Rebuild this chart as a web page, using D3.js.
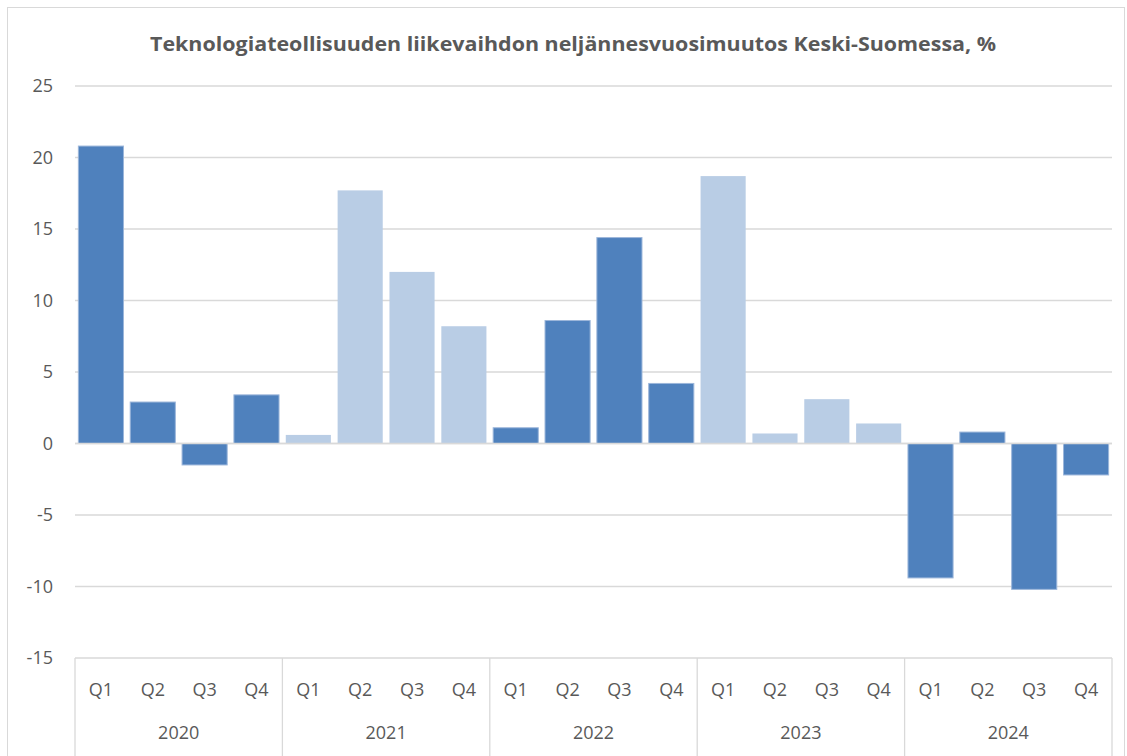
<!DOCTYPE html>
<html>
<head>
<meta charset="utf-8">
<script src="https://cdn.jsdelivr.net/npm/d3@7"></script>
<style>
  body { margin: 0; background: #fff; }
  text { font-family: "Open Sans", "Noto Sans", sans-serif; fill: #595959; }
</style>
</head>
<body>
<div id="chart"></div>
<script>
// Data
var years = ["2020", "2021", "2022", "2023", "2024"];
var quarters = ["Q1", "Q2", "Q3", "Q4"];
var values = [20.8, 2.9, -1.5, 3.4,
    0.6, 17.7, 12.0, 8.2,
    1.1, 8.6, 14.4, 4.2,
    18.7, 0.7, 3.1, 1.4,
    -9.4, 0.8, -10.2, -2.2];
var yTicks = [-15, -10, -5, 0, 5, 10, 15, 20, 25];
var title = "Teknologiateollisuuden liikevaihdon neljännesvuosimuutos Keski-Suomessa, %";

var width = 1127, height = 756;
var plotLeft = 75, plotRight = 1112, plotTop = 86, plotBottom = 658;

var data = values.map(function(v, i) {
    return {"year": years[Math.floor(i / 4)], "q": quarters[i % 4], "v": v, "yi": Math.floor(i / 4), "i": i};
});

var svg = d3.select("#chart")
    .append("svg")
    .attr("width", width)
    .attr("height", height);

svg.append("rect")
    .attr("x", 7.5)
    .attr("y", 7.5)
    .attr("width", 1117)
    .attr("height", 760)
    .attr("fill", "#fff")
    .attr("stroke", "#d9d9d9");

var x = d3.scaleBand()
    .domain(d3.range(values.length))
    .range([plotLeft, plotRight])
    .paddingInner(0.13)
    .paddingOuter(0.065);

var y = d3.scaleLinear()
    .domain([-15, 25])
    .range([plotBottom, plotTop]);

// gridlines
svg.selectAll("line.grid")
    .data(yTicks)
    .enter()
    .append("line")
    .attr("class", "grid")
    .attr("x1", plotLeft)
    .attr("x2", plotRight)
    .attr("y1", function(d) { return y(d); })
    .attr("y2", function(d) { return y(d); })
    .attr("stroke", "#d9d9d9")
    .attr("stroke-width", 1.3);

svg.selectAll("text.ytick")
    .data(yTicks)
    .enter()
    .append("text")
    .attr("class", "ytick")
    .attr("x", 53)
    .attr("y", function(d) { return y(d); })
    .attr("dy", "0.35em")
    .attr("text-anchor", "end")
    .style("font-size", "18px")
    .text(function(d) { return d; });

// bars
svg.selectAll("rect.bar")
    .data(data)
    .enter()
    .append("rect")
    .attr("class", "bar")
    .attr("x", function(d) { return x(d.i); })
    .attr("width", x.bandwidth())
    .attr("y", function(d) { return y(Math.max(0, d.v)); })
    .attr("height", function(d) { return Math.abs(y(d.v) - y(0)); })
    .attr("fill", function(d) { return d.yi % 2 === 0 ? "#4f81bd" : "#b9cde5"; })
    .attr("stroke", function(d) { return d.yi % 2 === 0 ? "#9cb6da" : "none"; })
    .attr("stroke-width", 1);

// zero line
svg.append("line")
    .attr("x1", plotLeft)
    .attr("x2", plotRight)
    .attr("y1", y(0))
    .attr("y2", y(0))
    .attr("stroke", "#d9d9d9")
    .attr("stroke-width", 1.5);

// category axis
var step = (plotRight - plotLeft) / values.length;
svg.selectAll("line.sep")
    .data(d3.range(years.length + 1))
    .enter()
    .append("line")
    .attr("class", "sep")
    .attr("x1", function(d) { return plotLeft + d * 4 * step; })
    .attr("x2", function(d) { return plotLeft + d * 4 * step; })
    .attr("y1", plotBottom)
    .attr("y2", height)
    .attr("stroke", "#d9d9d9")
    .attr("stroke-width", 1.3);

svg.selectAll("text.q")
    .data(data)
    .enter()
    .append("text")
    .attr("class", "q")
    .attr("x", function(d) { return x(d.i) + x.bandwidth() / 2; })
    .attr("y", 690)
    .attr("dy", "0.35em")
    .attr("text-anchor", "middle")
    .style("font-size", "18px")
    .text(function(d) { return d.q; });

svg.selectAll("text.year")
    .data(years)
    .enter()
    .append("text")
    .attr("class", "year")
    .attr("x", function(d, i) { return plotLeft + (i * 4 + 2) * step; })
    .attr("y", 733)
    .attr("dy", "0.35em")
    .attr("text-anchor", "middle")
    .style("font-size", "18px")
    .text(function(d) { return d; });

svg.append("text")
    .attr("x", 573)
    .attr("y", 44)
    .attr("dy", "0.35em")
    .attr("text-anchor", "middle")
    .attr("textLength", 846)
    .attr("lengthAdjust", "spacingAndGlyphs")
    .style("font-size", "20px")
    .style("font-weight", "bold")
    .text(title);
</script>
</body>
</html>
